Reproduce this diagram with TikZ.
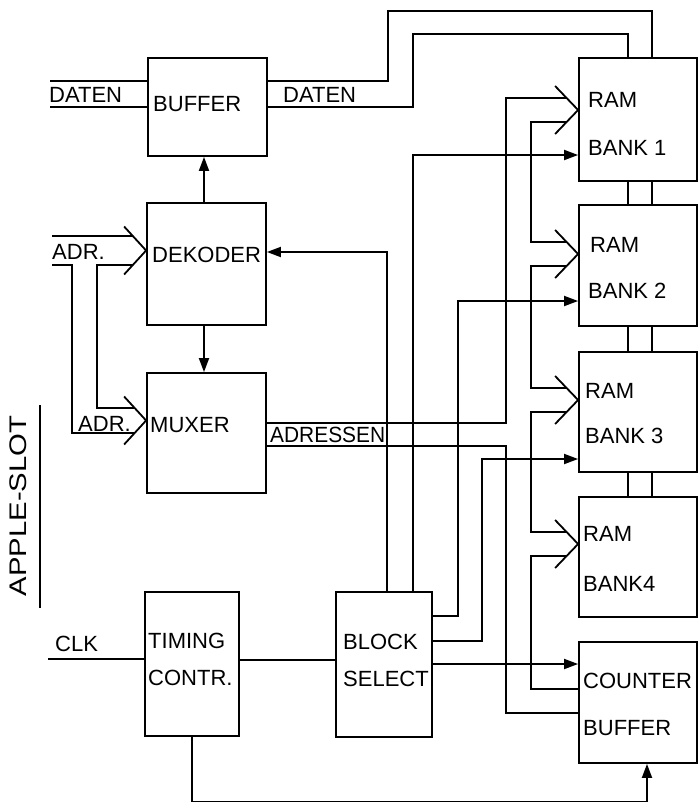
\documentclass[tikz,border=0pt]{standalone}
\usepackage{fontspec}
\setmainfont{Liberation Sans}
\usetikzlibrary{arrows.meta,calc}
\begin{document}
\begin{tikzpicture}[x=1pt,y=-1pt,
  wire/.style={line width=1.8pt, line join=miter},
  arr/.style={wire,-{Triangle[length=14pt,width=10pt]}},
  box/.style={draw,line width=1.8pt,inner sep=0pt,rectangle},
  lab/.style={inner sep=0pt,anchor=west,font=\fontsize{22}{22}\selectfont},
]
\useasboundingbox (0,0) rectangle (699,804);
% boxes
\node[box,minimum width=119pt,minimum height=98pt] (buf) at (207.5,107) {};
\node[box,minimum width=119pt,minimum height=122pt] (dek) at (206.5,264) {};
\node[box,minimum width=119pt,minimum height=120pt] (mux) at (206.5,433) {};
\node[box,minimum width=94pt,minimum height=144pt] (tim) at (192,664) {};
\node[box,minimum width=96pt,minimum height=145pt] (blk) at (384,664.5) {};
\node[box,minimum width=118pt,minimum height=123pt] (r1) at (638,119.5) {};
\node[box,minimum width=118pt,minimum height=121pt] (r2) at (638,265.5) {};
\node[box,minimum width=118pt,minimum height=120pt] (r3) at (638,412) {};
\node[box,minimum width=118pt,minimum height=120pt] (r4) at (638,557) {};
\node[box,minimum width=118pt,minimum height=121pt] (cb) at (638,702.5) {};
% labels
\node[lab] (tbuf) at (153,104) {BUFFER};
\node[lab] (tdl) at (49,95) {DATEN};
\node[lab] (tdr) at (283,95) {DATEN};
\node[lab] (tdek) at (152,255) {DEKODER};
\node[lab] (tadra) at (52,252) {ADR.};
\node[lab] (tmux) at (150,425) {MUXER};
\node[lab] (tadrb) at (78,424) {ADR.};
\node[lab] (tadrs) at (270,434.5) {\scalebox{0.95}[1]{ADRESSEN}};
\node[lab] (tram1) at (588,99.5) {RAM};
\node[lab] (tbank1) at (588,148) {BANK 1};
\node[lab] (tram2) at (590,245) {RAM};
\node[lab] (tbank2) at (588,291) {BANK 2};
\node[lab] (tram3) at (585,391) {RAM};
\node[lab] (tbank3) at (585,436) {BANK 3};
\node[lab] (tram4) at (583,533.5) {RAM};
\node[lab] (tbank4) at (583,583.5) {BANK4};
\node[lab] (tcnt) at (583,680.5) {COUNTER};
\node[lab] (tcbuf) at (583,728.5) {BUFFER};
\node[lab] (ttim1) at (148,640.5) {TIMING};
\node[lab] (ttim2) at (148,677.5) {CONTR.};
\node[lab] (tblk1) at (343,642) {BLOCK};
\node[lab] (tblk2) at (343,679) {SELECT};
\node[lab] (tclk) at (55,643.5) {CLK};
\node[rotate=90,inner sep=0pt,font=\fontsize{24}{24}\selectfont] (apple) at (18.5,506) {\scalebox{1.22}[1]{APPLE-SLOT}};
\coordinate (ula) at (40,405);
\coordinate (ulb) at (40,608);
\draw[line width=1.3pt] (ula) -- (ulb);
% DATEN buses
\coordinate (dla) at (50,81);
\coordinate (dlb) at (50,107);
\draw[wire] (dla) -- (dla -| buf.west);
\draw[wire] (dlb) -- (dlb -| buf.west);
\draw[wire] (buf.east |- dla) -- (388,81) -- (388,11) -- (652,11) -- (652,0 |- r1.north);
\draw[wire] (buf.east |- dlb) -- (413,107) -- (413,34) -- (628,34) -- (628,0 |- r1.north);
% bank interconnects
\foreach \a/\b in {r1/r2,r2/r3,r3/r4}{
  \draw[wire] (628,0 |- \a.south) -- (628,0 |- \b.north);
  \draw[wire] (652,0 |- \a.south) -- (652,0 |- \b.north);
}
% vertical arrows
\draw[arr] (204,0 |- dek.north) -- (204,0 |- buf.south);
\draw[arr] (204,0 |- dek.south) -- (204,0 |- mux.north);
% ADR chevrons
\coordinate (cd) at (dek.west |- 0,250.5);
\coordinate (cm) at (mux.west |- 0,420.5);
\draw[wire] ($(cd)+(-22,-24)$) -- (cd) -- ($(cd)+(-22,24)$);
\draw[wire] ($(cm)+(-22,-24)$) -- (cm) -- ($(cm)+(-22,24)$);
\coordinate (adra) at (52,236);
\coordinate (adrb) at (52,265);
\draw[wire] (adra) -- ($(cd)+(-13.3,-14.5)$);
\draw[wire] (adrb) -- (72,265) -- (72,433) -- ($(cm)+(-11.5,12.5)$);
\draw[wire] ($(cd)+(-13.3,14.5)$) -- (97,265) -- (97,408) -- ($(cm)+(-11.5,-12.5)$);
% RAM chevrons
\coordinate (c1) at (r1.west |- 0,110);
\coordinate (c2) at (r2.west |- 0,254);
\coordinate (c3) at (r3.west |- 0,400);
\coordinate (c4) at (r4.west |- 0,544);
\foreach \c in {c1,c2,c3,c4}{
  \draw[wire] ($(\c)+(-23,-24)$) -- (\c) -- ($(\c)+(-23,24)$);
}
% address lines
\draw[wire] (mux.east |- 0,423) -- (506,423) -- (506,98) -- ($(c1)+(-11.5,-12)$);
\draw[wire] (mux.east |- 0,446) -- (506,446) -- (506,713) -- (cb.west |- 0,713);
\draw[wire] ($(c1)+(-11.5,12)$) -- (531,122) -- (531,242) -- ($(c2)+(-11.5,-12)$);
\draw[wire] ($(c2)+(-11.5,12)$) -- (531,266) -- (531,388) -- ($(c3)+(-11.5,-12)$);
\draw[wire] ($(c3)+(-11.5,12)$) -- (531,412) -- (531,532) -- ($(c4)+(-11.5,-12)$);
\draw[wire] ($(c4)+(-11.5,12)$) -- (531,556) -- (531,689) -- (cb.west |- 0,689);
% block select
\draw[arr] (387,0 |- blk.north) |- (dek.east |- 0,252);
\draw[arr] (413,0 |- blk.north) |- (r1.west |- 0,155);
\draw[arr] (blk.east |- 0,616) -| (458,301) -- (r2.west |- 0,301);
\draw[arr] (blk.east |- 0,641) -| (482,459) -- (r3.west |- 0,459);
\draw[arr] (blk.east |- 0,664) -- (cb.west |- 0,664);
% timing
\draw[wire] (tim.east |- 0,660) -- (blk.west |- 0,660);
\coordinate (clk) at (48,659);
\draw[wire] (clk) -- (tim.west |- clk);
\draw[arr] (192,0 |- tim.south) -- (192,801.5) -| (647,0 |- cb.south);
\end{tikzpicture}
\end{document}
